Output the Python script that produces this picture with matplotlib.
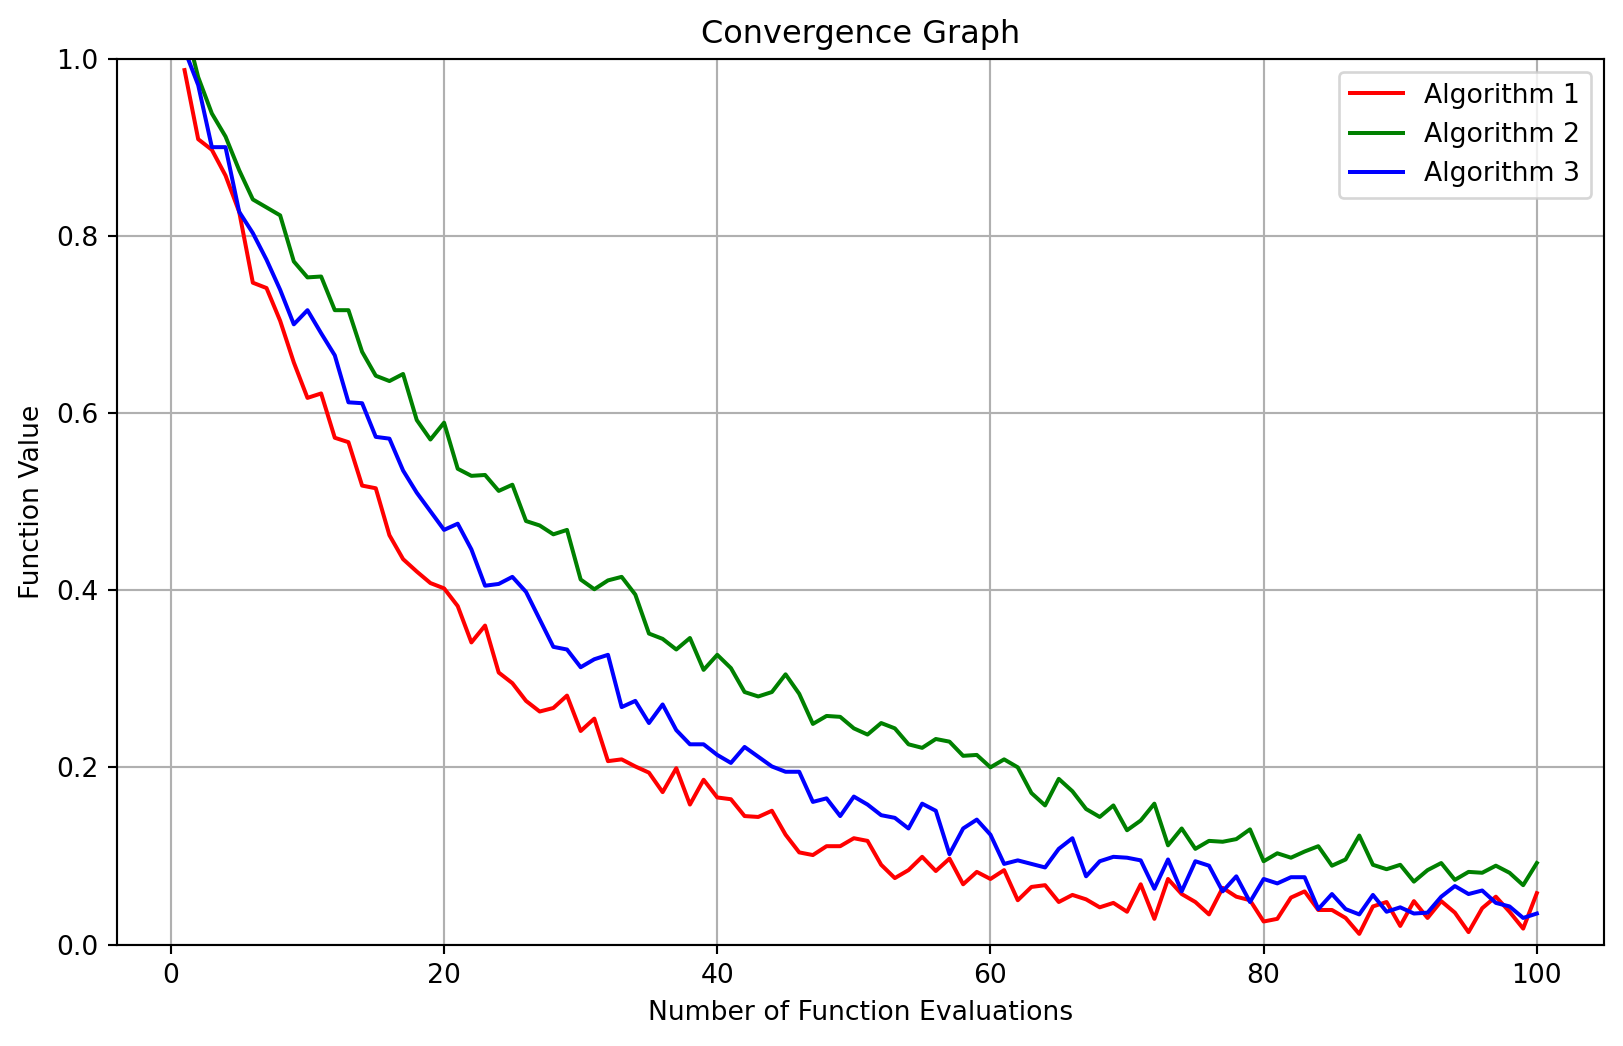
import numpy as np
import matplotlib
matplotlib.use('Agg')
import matplotlib.pyplot as plt

evals = np.arange(1, 101)

algo1 = [0.987, 0.909, 0.897, 0.868, 0.827, 0.747, 0.741, 0.704, 0.657, 0.617,
         0.622, 0.572, 0.567, 0.518, 0.515, 0.462, 0.435, 0.421, 0.408, 0.402,
         0.382, 0.341, 0.360, 0.307, 0.295, 0.275, 0.263, 0.267, 0.281, 0.241,
         0.255, 0.207, 0.209, 0.201, 0.194, 0.172, 0.199, 0.158, 0.186, 0.166,
         0.164, 0.145, 0.144, 0.151, 0.124, 0.104, 0.101, 0.111, 0.111, 0.120,
         0.117, 0.090, 0.075, 0.084, 0.099, 0.083, 0.097, 0.068, 0.082, 0.074,
         0.084, 0.050, 0.065, 0.067, 0.048, 0.056, 0.051, 0.042, 0.047, 0.037,
         0.068, 0.029, 0.074, 0.057, 0.048, 0.034, 0.064, 0.054, 0.050, 0.026,
         0.029, 0.053, 0.060, 0.039, 0.039, 0.030, 0.012, 0.043, 0.048, 0.021,
         0.049, 0.030, 0.049, 0.036, 0.014, 0.041, 0.054, 0.037, 0.018, 0.058]

algo2 = [1.040, 0.979, 0.938, 0.912, 0.874, 0.841, 0.832, 0.823, 0.771, 0.753,
         0.754, 0.716, 0.716, 0.669, 0.642, 0.636, 0.644, 0.592, 0.570, 0.589,
         0.537, 0.529, 0.530, 0.512, 0.519, 0.478, 0.473, 0.463, 0.468, 0.412,
         0.401, 0.411, 0.415, 0.395, 0.351, 0.345, 0.333, 0.346, 0.310, 0.327,
         0.312, 0.285, 0.280, 0.285, 0.305, 0.283, 0.249, 0.258, 0.257, 0.244,
         0.237, 0.250, 0.244, 0.226, 0.222, 0.232, 0.229, 0.213, 0.214, 0.200,
         0.209, 0.200, 0.171, 0.157, 0.187, 0.173, 0.153, 0.144, 0.157, 0.129,
         0.140, 0.159, 0.112, 0.131, 0.108, 0.117, 0.116, 0.119, 0.130, 0.094,
         0.103, 0.098, 0.105, 0.111, 0.089, 0.096, 0.123, 0.090, 0.085, 0.090,
         0.071, 0.084, 0.092, 0.073, 0.082, 0.081, 0.089, 0.081, 0.067, 0.092]

algo3 = [1.010, 0.970, 0.900, 0.900, 0.827, 0.803, 0.773, 0.739, 0.700, 0.716,
         0.690, 0.665, 0.612, 0.611, 0.573, 0.571, 0.535, 0.510, 0.489, 0.468,
         0.475, 0.446, 0.405, 0.407, 0.415, 0.398, 0.367, 0.336, 0.333, 0.313,
         0.322, 0.327, 0.268, 0.275, 0.250, 0.271, 0.242, 0.226, 0.226, 0.214,
         0.205, 0.223, 0.212, 0.201, 0.195, 0.195, 0.161, 0.165, 0.145, 0.167,
         0.158, 0.146, 0.143, 0.131, 0.159, 0.151, 0.102, 0.131, 0.141, 0.124,
         0.091, 0.095, 0.091, 0.087, 0.108, 0.120, 0.077, 0.094, 0.099, 0.098,
         0.095, 0.063, 0.096, 0.060, 0.094, 0.089, 0.060, 0.077, 0.048, 0.074,
         0.069, 0.076, 0.076, 0.040, 0.057, 0.040, 0.034, 0.056, 0.037, 0.042,
         0.035, 0.036, 0.054, 0.066, 0.057, 0.061, 0.047, 0.043, 0.030, 0.035]

fig, ax = plt.subplots(figsize=(8.458, 5.448), dpi=192)
ax.plot(evals, algo1, color='red', label='Algorithm 1')
ax.plot(evals, algo2, color='green', label='Algorithm 2')
ax.plot(evals, algo3, color='blue', label='Algorithm 3')
ax.set_ylim(0, 1)
ax.set_xlabel('Number of Function Evaluations')
ax.set_ylabel('Function Value')
ax.set_title('Convergence Graph')
ax.grid(True)
ax.legend(loc='upper right')
plt.subplots_adjust(left=0.072, right=0.988, top=0.944, bottom=0.097)

plt.savefig('out.png')
